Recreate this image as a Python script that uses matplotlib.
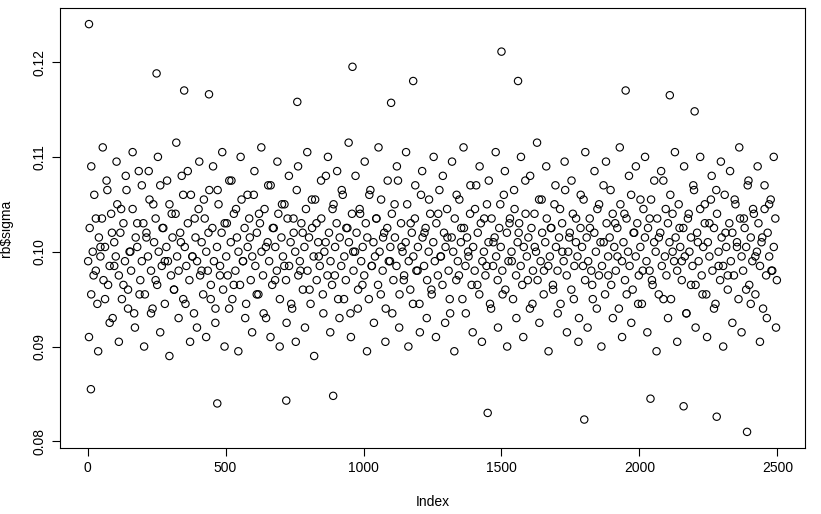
import matplotlib
matplotlib.use("Agg")
import matplotlib.pyplot as plt
import numpy as np

# body of the cloud, read roughly along Index
# code -> sigma = 0.080 + code * 0.0005
body_codes_a = """
38 45 31 40 52 36 29 43 39 47 34 41 55 33 37 48 26 42 39 50 35 44 30 46 38 53 32 40 36 49
27 43 41 57 34 38 46 31 44 39 51 36 28 42 47 33 40 54 37 45 29 41 38 50 35 43 32 48 39 36
44 56 30 41 37 46 34 52 39 27 43 38 49 35 42 31 47 40 36 53 33 45 38 28 41 50 37 44 32 46
39 35 55 42 30 48 36 43 40 33 51 38 45 29 41 47 34 39 52 37 44 31 46 40 35 49 26 42 38 54
33 45 41 36 48 30 43 39 50 34 47 37 42 28 44 40 53 35 38 46 32 41 49 36 43 29 45 39 51 34
42 37 47 31 40 56 35 44 38 33 50 41 46 30 43 37 52 39 34 45 42 27 48 36 40 44 32 49 38 41
35 46 43 30 53 37 42 39 47 33 40 51 36 44 28 45 38 41 48 34 43 37 55 31 46 40 35 42 50 38
32 44 39 47 36 41 29 52 43 37 45 34 40 48 31 42 38 46 35 53 39 33 44 41 49 36 27 43 40 47
34 38 51 42 30 45 37 43 39 48 33 41 36 54 44 31 46 38 40 35 50 42 29 47 37 43 39 34 45 41
36 52 32 44 38 47 40 30 49 35 42 46 37 33 41 55 39 43 28 45 36 48 40 34 51 38 44 31 42 47
37 39 45 33 50 41 36 43 29 46 38 53 35 40 44 32 48 37 42 39 26 45 41 51 34 43 38 47 36 30
44 40 49 35 42 37 54 31 46 39 43 33 48 41 36 45 28 50 38 42 34 47 40 37 52 32 44 39 46 35
41 29 49 43 38 45 36 51 33 42 40 47 31 44 37 55 39 35 46 42 30 48 38 43 36 50 41 34 45 39
27 47 40 43 37 53 33 44 38 49 35 41 46 31 42 39 51 36 45 29 48 40 34 43 37 52 41 32 46 38
44 35 50 42 30 47 39 36 45 41 54 33 43 38 48 31 40 46 37 42 28 49 35 44 39 51 36 41 47 34
"""
body_codes_b = """
22 58 35 47 19 41 62 30 53 25 44 37 59 21 49 33 56 28 40 61 24 46 31 54 20 43 57 27 50 34
60 23 45 38 55 18 48 32 63 26 42 52 29 57 21 39 47 24 59 36 51 22 44 30 58 25 53 35 61 20
46 28 55 33 49 19 60 38 26 52 43 23 57 31 48 62 27 41 54 22 45 34 59 20 50 37 25 56 29 47
21 58 36 44 24 61 32 51 18 46 39 55 27 42 60 23 49 35 57 26 53 30 45 63 22 40 56 28 48 33
59 19 52 37 25 47 62 31 43 21 55 38 27 50 58 24 41 34 61 20 46 29 54 36 23 57 44 26 51 32
60 22 48 39 56 25 43 30 59 19 52 35 45 62 27 40 54 23 49 33 58 21 47 37 55 28 42 61 24 50
31 57 20 46 38 53 26 44 60 22 48 34 56 29 41 63 25 51 36 58 19 45 32 54 27 49 40 59 23 43
55 30 47 21 52 37 61 24 45 33 57 28 50 20 42 59 35 53 26 46 39 62 22 48 31 56 25 44 58 29
51 36 60 23 47 34 55 19 43 57 30 49 26 52 40 61 21 45 38 58 27 48 33 54 24 42 60 31 50 22
46 56 28 53 37 59 20 44 35 57 25 51 41 62 23 47 32 55 29 49 39 58 21 43 54 26 50 36 60 24
"""
a = np.array([int(c) for c in body_codes_a.split()])
b = np.array([int(c) for c in body_codes_b.split()])
a_index = np.linspace(2, 2498, len(a))
b_index = np.linspace(5, 2495, len(b))

# isolated points far from the cloud
out_index = [5, 12, 250, 350, 440, 470, 720, 760, 890, 960, 1100, 1180,
             1450, 1500, 1560, 1800, 1950, 2110, 2160, 2280, 2390, 2040, 2200]
out_sigma = [0.1240, 0.0855, 0.1188, 0.1170, 0.1166, 0.0840, 0.0843, 0.1158,
             0.0848, 0.1195, 0.1157, 0.1180, 0.0830, 0.1211, 0.1180, 0.0823,
             0.1170, 0.1165, 0.0837, 0.0826, 0.0810, 0.0845, 0.1148]

idx = np.concatenate([a_index, b_index, out_index])
sigma = np.concatenate([0.080 + a * 0.0005, 0.080 + b * 0.0005, out_sigma])

plt.rcParams['font.family'] = ['Liberation Sans', 'DejaVu Sans']
fig = plt.figure(figsize=(8.21, 5.14), dpi=100)
ax = fig.add_axes([60 / 821, 66 / 514, 745 / 821, 440 / 514])
ax.scatter(idx, sigma, s=28, facecolors='none', edgecolors='black', linewidths=0.8)
ax.set_xlim(-100, 2600)
ax.set_ylim(0.0793, 0.1257)
ax.set_xticks([0, 500, 1000, 1500, 2000, 2500])
ax.set_yticks([0.08, 0.09, 0.10, 0.11, 0.12])
ax.set_yticklabels(['0.08', '0.09', '0.10', '0.11', '0.12'], rotation=90, va='center')
ax.tick_params(labelsize=10, length=6)
ax.set_xlabel('Index', fontsize=10, labelpad=14)
ax.set_ylabel('rb$sigma', fontsize=10, labelpad=14)
fig.savefig('out.png', dpi=100)
